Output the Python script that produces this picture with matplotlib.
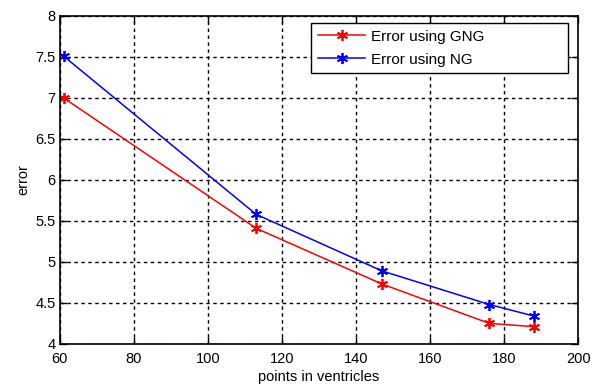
import matplotlib
matplotlib.use("Agg")
import matplotlib.pyplot as plt

plt.rcParams['font.family'] = ['Liberation Sans', 'DejaVu Sans']

points = [61, 113, 147, 176, 188]
err_gng = [7.00, 5.41, 4.73, 4.25, 4.21]
err_ng = [7.51, 5.58, 4.89, 4.48, 4.34]
xticks = [60, 80, 100, 120, 140, 160, 180, 200]
yticks = [4, 4.5, 5, 5.5, 6, 6.5, 7, 7.5, 8]
yticklabels = ['4', '4.5', '5', '5.5', '6', '6.5', '7', '7.5', '8']

fig = plt.figure(figsize=(5.93, 3.89), dpi=100)
ax = fig.add_axes([0.101, 0.116, 0.874, 0.843])

ax.plot(points, err_gng, color='#ff0000', lw=1.1, marker=(6, 2, 0), ms=8, mew=1.3, label='Error using GNG')
ax.plot(points, err_ng, color='#0000ff', lw=1.1, marker=(6, 2, 0), ms=8, mew=1.3, label='Error using NG')

ax.set_xlim(60, 200)
ax.set_ylim(4, 8)
ax.set_xticks(xticks)
ax.set_yticks(yticks)
ax.set_yticklabels(yticklabels)
ax.grid(True, color='black', linestyle=(0, (2.5, 2.5)), linewidth=1.0)
ax.tick_params(direction='in', top=True, right=True, labelsize=10.5, length=5, width=1)
ax.tick_params(axis='x', pad=6)
ax.tick_params(axis='y', pad=3)
for s in ax.spines.values():
    s.set_linewidth(1.2)

ax.set_xlabel('points in ventricles', fontsize=10.5, labelpad=3)
ax.set_ylabel('error', fontsize=10.5, labelpad=4)

leg = ax.legend(loc='upper left', fontsize=11, fancybox=False, framealpha=1,
                edgecolor='black', borderaxespad=0, handlelength=3.1,
                handletextpad=0.35, labelspacing=0.58, borderpad=0.45,
                bbox_to_anchor=(0.4846, 0.826, 0.496, 0.153), mode='expand')
leg.get_frame().set_linewidth(1.0)

fig.savefig('out.png', dpi=100)
